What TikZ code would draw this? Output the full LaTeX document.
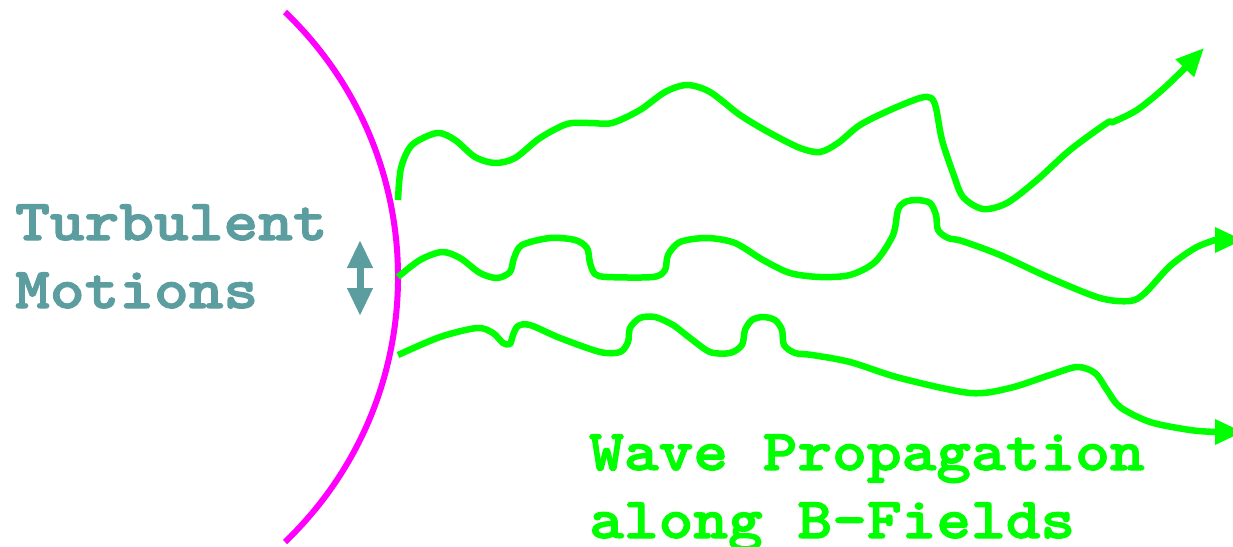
\documentclass[tikz,border=0pt]{standalone}
\usepackage{fontspec}
\newfontfamily\labelfont{lmmonolt10-bold.otf}[FakeStretch=1.14, FakeBold=2]
\usetikzlibrary{arrows.meta}
\definecolor{wavegreen}{RGB}{0,255,0}
\definecolor{frontpink}{RGB}{255,0,255}
\definecolor{turbteal}{RGB}{92,158,160}
\tikzset{
  front/.style={frontpink, line width=6pt},
  wave/.style={wavegreen, line width=6.5pt, line join=round},
  wavetip/.style={-{Triangle[length=28pt,width=24pt]}},
  label/.style={inner sep=0pt, anchor=base west, font=\labelfont\fontsize{58}{68}\selectfont},
}
\begin{document}
\begin{tikzpicture}[x=1pt,y=-1pt]
\useasboundingbox (0,0) rectangle (1233,546);

% curved front
\draw[front] (285,12) .. controls (435.7,156.4) and (435.7,397.6) .. (285,542);

% turbulent motion arrow
\draw[turbteal, line width=7pt,
  {Triangle[length=28pt,width=24pt]}-{Triangle[length=28pt,width=24pt]}]
  (360,240) -- (360,316);

% upper wave
\draw[wave, wavetip] plot[smooth, tension=0.5] coordinates {
  (398,200) (401,168) (412,145) (437,133) (455,140) (475,157) (495,163)
  (515,158) (540,138) (567,124) (590,123) (612,123) (640,110) (665,92)
  (687,85) (710,92) (740,115) (770,133) (800,148) (820,152) (838,143)
  (860,125) (890,110) (920,98) (931,98) (936,108) (942,140) (953,173)
  (963,197) (983,209) (1007,203) (1037,180) (1070,150) (1107,123)
  (1113,122) (1137,110) (1162,90) (1184,69)} -- (1204,48);

% middle wave
\draw[wave, wavetip] plot[smooth, tension=0.5] coordinates {
  (398,277) (420,260) (442,252) (460,258) (480,273) (497,278) (510,272)
  (514,258) (522,245) (550,238) (575,240) (587,248) (590,263) (595,274)
  (607,277) (653,277) (665,270) (668,255) (680,242) (707,238) (735,243)
  (763,260) (790,273) (820,277) (850,275) (875,262) (893,235) (898,210)
  (905,202) (917,200) (930,203) (936,215) (938,230) (948,238) (962,241)
  (1000,255) (1050,278) (1100,298) (1130,301) (1145,293) (1170,266)
  (1195,248) (1215,240)} -- (1243,240);

% lower wave
\draw[wave, wavetip] plot[smooth, tension=0.5] coordinates {
  (398,355) (440,337) (477,328) (493,333) (503,343) (510,344) (513,335)
  (518,326) (530,325) (560,338) (600,352) (620,352) (628,342) (630,328)
  (640,318) (655,317) (673,325) (690,338) (710,352) (730,353) (742,345)
  (745,330) (752,320) (763,317) (775,320) (782,330) (784,345) (795,353)
  (812,355) (850,362) (900,378) (970,393) (1010,388) (1050,375)
  (1077,367) (1095,373) (1107,390) (1120,407) (1150,422) (1190,430)
  (1215,432)} -- (1243,432);

% labels
\node[label, text=turbteal] (turb1) at (15,240) {Turbulent};
\node[label, text=turbteal] (turb2) at (15,308) {Motions};
\node[label, text=wavegreen] (wave1) at (589,470) {Wave Propagation};
\node[label, text=wavegreen] (wave2) at (589,538) {along B-Fields};
\end{tikzpicture}
\end{document}
